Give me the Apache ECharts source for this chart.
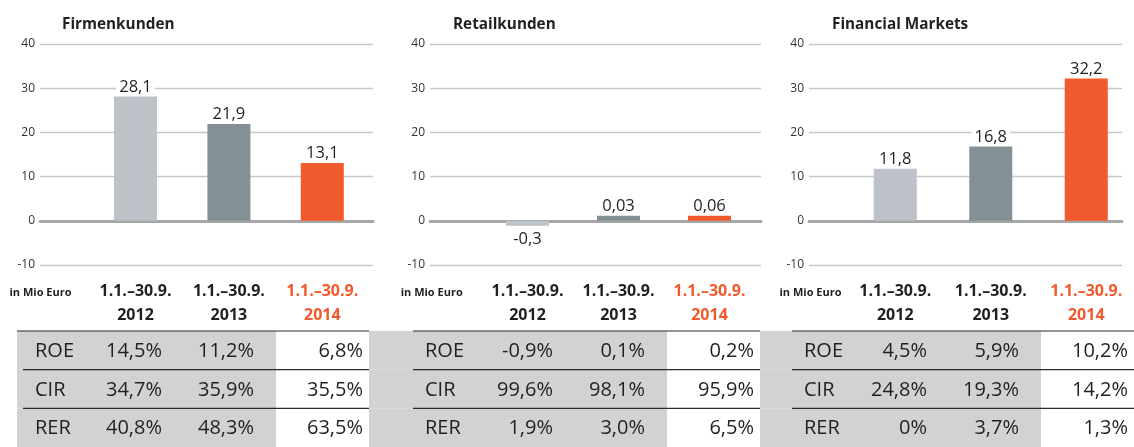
<!DOCTYPE html>
<html>
<head>
<meta charset="utf-8">
<script src="https://cdn.jsdelivr.net/npm/echarts@6/dist/echarts.min.js"></script>
<style>
html,body{margin:0;padding:0;background:#fff;}
#chart{width:1134px;height:447px;}
</style>
</head>
<body>
<div id="chart"></div>
<script>
// ---- data ----
const panelTitles = ['Firmenkunden', 'Retailkunden', 'Financial Markets'];
const categories = ['2012', '2013', '2014'];
const periodLabel = '1.1.–30.9.';
const unitLabel = 'in Mio Euro';
const firmenkundenValues = [28.1, 21.9, 13.1];
const retailkundenValues = [-0.3, 0.03, 0.06];
const financialMarketsValues = [11.8, 16.8, 32.2];
const yTicks = [-10, 0, 10, 20, 30, 40];
const tableRowLabels = ['ROE', 'CIR', 'RER'];
// rows: ROE, CIR, RER ; columns: 2012, 2013, 2014 (in %)
const firmenkundenTable = [[14.5, 11.2, 6.8], [34.7, 35.9, 35.5], [40.8, 48.3, 63.5]];
const retailkundenTable = [[-0.9, 0.1, 0.2], [99.6, 98.1, 95.9], [1.9, 3.0, 6.5]];
const financialMarketsTable = [[4.5, 5.9, 10.2], [24.8, 19.3, 14.2], [0, 3.7, 1.3]];

// ---- styles / layout ----
const FONT = "'Open Sans', sans-serif";
const TXT = '#231f20';
const ORANGE = '#f15a2c';
const barColors = ['#bcc2c7', '#858f96', '#f15a2c'];
const GREY_BG = '#d1d2d4';
const panels = [
  { values: firmenkundenValues, table: firmenkundenTable,
    bg: { left: 40, width: 333 }, bar: { left: 88.8, width: 280.2 },
    tbl: { left: 23, width: 346 }, greyOff: -6, topLineOff: -6, titleLeft: 62, unitX: 9.5 },
  { values: retailkundenValues, table: retailkundenTable,
    bg: { left: 430, width: 331 }, bar: { left: 482, width: 273 },
    tbl: { left: 413, width: 347 }, greyOff: -44, topLineOff: 0, titleLeft: 453, unitX: 400.7 },
  { values: financialMarketsValues, table: financialMarketsTable,
    bg: { left: 809, width: 313 }, bar: { left: 847.5, width: 292.8 },
    tbl: { left: 792, width: 342 }, greyOff: -32, topLineOff: 0, titleLeft: 832, unitX: 779.5 }
];
const PLOT_TOP = 44, PLOT_H = 221;
const TBL_TOP = 331, TBL_H = 117.6;
const WHITE_W = 93;
const valueRightOff = [207, 115, 6];

function fmtNum(v) { return String(v).replace('.', ','); }
function fmtPct(v) { return (v === 0 ? '0' : v.toFixed(1).replace('.', ',')) + '%'; }

const grids = [], xAxes = [], yAxes = [], series = [], titles = [], graphics = [];

panels.forEach((p, i) => {
  // background grid with gridlines & y labels
  grids.push({ left: p.bg.left, width: p.bg.width, top: PLOT_TOP, height: PLOT_H });
  const gBg = grids.length - 1;
  xAxes.push({ gridIndex: gBg, type: 'value', min: 0, max: 1,
    axisLine: { show: true, onZero: true, lineStyle: { color: '#a4a6a8', width: 2.8 } },
    axisTick: { show: false }, axisLabel: { show: false }, splitLine: { show: false } });
  yAxes.push({ gridIndex: gBg, type: 'value', min: yTicks[0], max: yTicks[yTicks.length - 1], interval: 10,
    axisLine: { show: false }, axisTick: { show: false },
    axisLabel: { margin: 5, fontSize: 12, color: '#333', fontFamily: FONT },
    splitLine: { lineStyle: { color: '#c6c7c8', width: 1.3 } } });

  // bar grid
  grids.push({ left: p.bar.left, width: p.bar.width, top: PLOT_TOP, height: PLOT_H });
  const gBar = grids.length - 1;
  xAxes.push({ gridIndex: gBar, type: 'category', data: categories,
    axisLine: { show: false, onZero: false }, axisTick: { show: false },
    axisLabel: { margin: 14, interval: 0,
      formatter: (v, idx) => idx === categories.length - 1
        ? `{o|${periodLabel}}\n{o|${v}}` : `{b|${periodLabel}}\n{b|${v}}`,
      rich: {
        b: { fontSize: 16, fontWeight: 'bold', color: TXT, lineHeight: 24, fontFamily: FONT },
        o: { fontSize: 16, fontWeight: 'bold', color: ORANGE, lineHeight: 24, fontFamily: FONT }
      } },
    splitLine: { show: false } });
  yAxes.push({ gridIndex: gBar, type: 'value', min: yTicks[0], max: yTicks[yTicks.length - 1], interval: 10, show: false });

  series.push({
    type: 'bar', xAxisIndex: gBar, yAxisIndex: gBar, barWidth: 43, barMinHeight: 5,
    data: p.values.map((v, k) => ({ value: v, itemStyle: { color: barColors[k] },
      label: v < 0 ? { position: 'bottom', distance: 5 } : undefined })),
    label: { show: true, position: 'top', distance: 1, formatter: (d) => fmtNum(d.value),
      fontSize: 16.5, color: TXT, fontFamily: FONT, backgroundColor: '#fff', padding: [0, 3] },
    emphasis: { disabled: true }
  });

  titles.push({ text: panelTitles[i], left: p.titleLeft, top: 17, padding: 0,
    textStyle: { fontSize: 15.3, fontWeight: 'bold', color: TXT, fontFamily: FONT } });

  graphics.push({ type: 'text', x: p.unitX, y: 293,
    style: { text: unitLabel, font: `bold 11px ${FONT}`, fill: TXT, textVerticalAlign: 'middle' } });

  // table grid
  grids.push({ left: p.tbl.left, width: p.tbl.width, top: TBL_TOP, height: TBL_H });
  const gT = grids.length - 1;
  xAxes.push({ gridIndex: gT, type: 'value', min: 0, max: 1, show: false });
  yAxes.push({ gridIndex: gT, type: 'category', data: tableRowLabels, inverse: true, show: false });
  const greyOff = p.greyOff, topLineOff = p.topLineOff;
  series.push({
    type: 'custom', xAxisIndex: gT, yAxisIndex: gT, silent: true, clip: false,
    encode: { y: 0 },
    data: p.table.map((row, r) => [r].concat(row)),
    renderItem: (params, api) => {
      const cs = params.coordSys;
      const r = api.value(0);
      const yc = api.coord([0, r])[1];
      const h = api.size([0, 1])[1];
      const top = yc - h / 2;
      const L = cs.x, E = cs.x + cs.width;
      const children = [
        { type: 'rect', shape: { x: L + greyOff, y: top, width: (E - WHITE_W) - (L + greyOff), height: h }, style: { fill: GREY_BG } },
        { type: 'rect', shape: { x: E - WHITE_W, y: top, width: WHITE_W, height: h }, style: { fill: '#fff' } },
        { type: 'line', shape: { x1: (r === 0 ? L + topLineOff : L), y1: top, x2: E, y2: top }, style: { stroke: '#2a2a2a', lineWidth: 1.2 } },
        { type: 'text', x: L + 12, y: yc + 1, style: { text: tableRowLabels[r], font: `20px ${FONT}`, fill: TXT, textAlign: 'left', textVerticalAlign: 'middle' } }
      ];
      for (let c = 0; c < 3; c++) {
        children.push({ type: 'text', x: E - valueRightOff[c], y: yc + 1,
          style: { text: fmtPct(api.value(c + 1)), font: `20px ${FONT}`, fill: TXT, textAlign: 'right', textVerticalAlign: 'middle' } });
      }
      return { type: 'group', children };
    }
  });
});

const chart = echarts.init(document.getElementById('chart'), null, { renderer: 'canvas' });
chart.setOption({
  animation: false,
  backgroundColor: '#fff',
  title: titles,
  grid: grids,
  xAxis: xAxes,
  yAxis: yAxes,
  series: series,
  graphic: graphics
});
</script>
</body>
</html>
